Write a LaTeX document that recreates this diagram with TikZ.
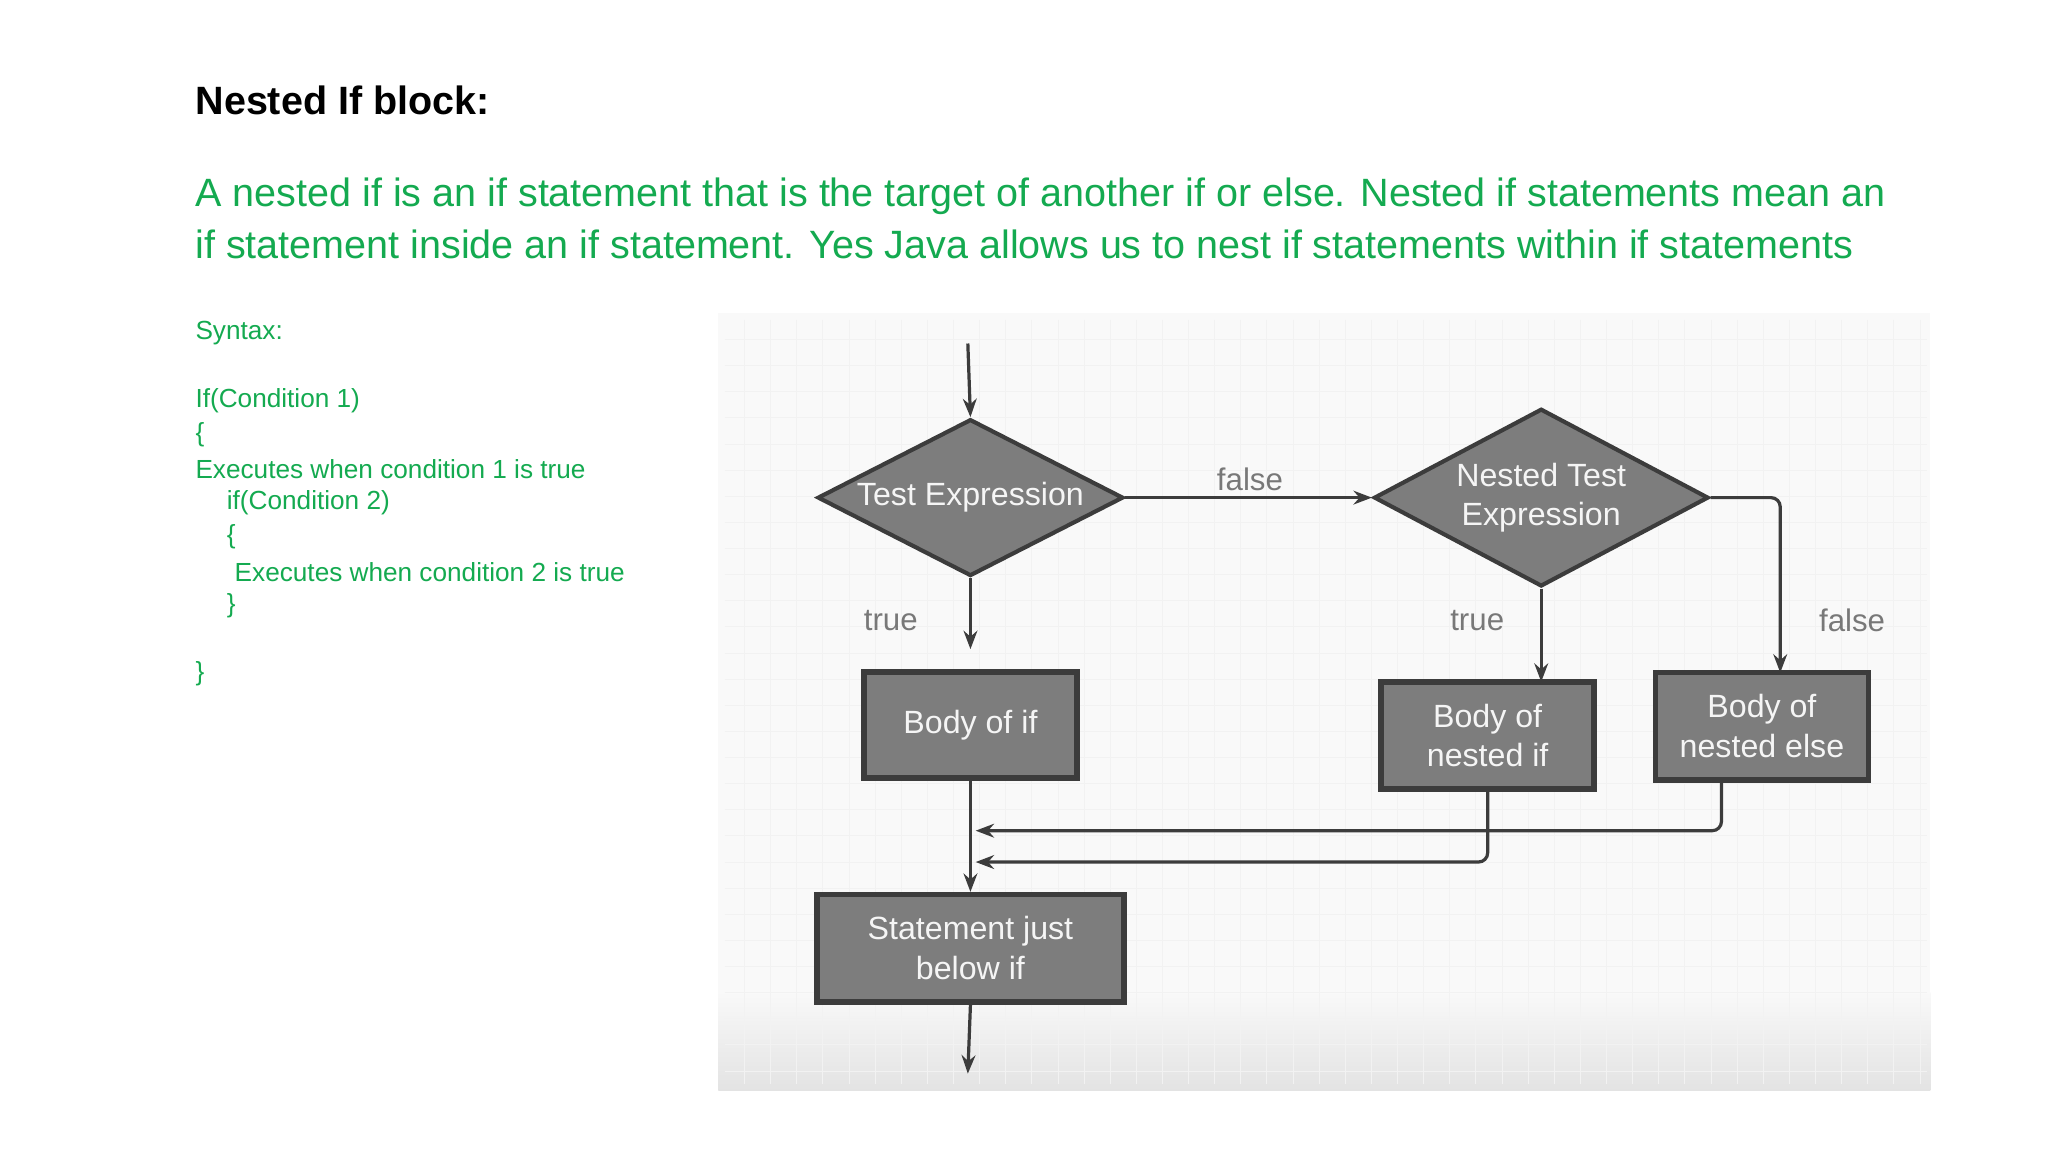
\documentclass[tikz,border=0pt]{standalone}
\usepackage{fontspec}
\setmainfont{Liberation Sans}
\usetikzlibrary{shapes.geometric,arrows.meta}
\definecolor{txtgreen}{RGB}{20,170,80}
\definecolor{boxgray}{RGB}{125,125,125}
\definecolor{edgegray}{RGB}{60,60,60}
\definecolor{lblgray}{RGB}{120,120,120}
\tikzset{
  fcbox/.style={draw=edgegray, line width=1.2pt, fill=boxgray, text=white!92!gray, align=center, font=\fontsize{7}{8.6}\selectfont, inner sep=0pt},
  fcdia/.style={diamond, draw=edgegray, line width=0.9pt, fill=boxgray, text=white!92!gray, align=center, font=\fontsize{7}{8.6}\selectfont, inner sep=0pt, aspect=2},
  flow/.style={draw=edgegray, line width=0.7pt, -{Stealth[length=4pt,width=3pt]}, rounded corners=2pt},
  lbl/.style={text=lblgray, font=\fontsize{6.8}{8}\selectfont},
  syn/.style={anchor=west, text=txtgreen, font=\fontsize{5.7}{7}\selectfont, inner sep=0pt}
}
\begin{document}
\begin{tikzpicture}[x=0.01cm,y=-0.01cm]
\useasboundingbox[fill=white] (0,0) rectangle (1568,882);
% background
\fill[gray!5] (550,240) rectangle (1478,835);
\shade[top color=gray!5, bottom color=gray!22] (550,760) rectangle (1478,835);
\foreach \x in {570,590,...,1470} \draw[gray!10,line width=0.2pt] (\x,245) -- (\x,830);
\foreach \y in {260,280,...,820} \draw[gray!10,line width=0.2pt] (555,\y) -- (1475,\y);
% texts
\node[anchor=west,inner sep=0pt,font=\bfseries\fontsize{8.6}{10}\selectfont] (title) at (149,77) {Nested If block:};
\node[anchor=west,inner sep=0pt,text=txtgreen,font=\fontsize{8.6}{10.5}\selectfont] (p1) at (149,150) {A nested if is an if statement that is the target of another if or else. Nested if statements mean an};
\node[anchor=west,inner sep=0pt,text=txtgreen,font=\fontsize{8.6}{10.5}\selectfont] (p2) at (149,187) {if statement inside an if statement. Yes Java allows us to nest if statements within if statements};
\node[syn] (s1) at (149,255) {Syntax:};
\node[syn] (s2) at (149,307) {If(Condition 1)};
\node[syn] (s3) at (149,333) {\{};
\node[syn] (s4) at (149,359) {Executes when condition 1 is true};
\node[syn] (s5) at (173,385) {if(Condition 2)};
\node[syn] (s6) at (173,411) {\{};
\node[syn] (s7) at (179,438) {Executes when condition 2 is true};
\node[syn] (s8) at (173,464) {\}};
\node[syn] (s9) at (149,516) {\}};
% flowchart
\coordinate (start) at (741,263);
\node[fcdia, minimum width=2.34cm, minimum height=1.2cm] (d1) at (743,381) {Test Expression};
\node[fcdia, minimum width=2.56cm, minimum height=1.36cm] (d2) at (1180,381) {Nested Test\\Expression};
\node[fcbox, minimum width=1.63cm, minimum height=0.81cm] (b1) at (743,555) {Body of if};
\node[fcbox, minimum width=1.63cm, minimum height=0.82cm] (b2) at (1139,563) {Body of\\nested if};
\node[fcbox, minimum width=1.63cm, minimum height=0.82cm] (b3) at (1349,556) {Body of\\nested else};
\node[fcbox, minimum width=2.35cm, minimum height=0.82cm] (st) at (743,726) {Statement just\\below if};
\coordinate (end) at (741,822);
\coordinate (d1t) at (743,497);
\draw[flow] (start) -- (d1.north);
\draw[flow] (d1.south) -- (d1t);
\draw[flow] (d1.east) -- (d2.west);
\draw[flow] (d2.south) -- (1180,522);
\draw[flow] (d2.east) -- (1363,381) -- (1363,515);
\draw[flow] (b1.south) -- (st.north);
\draw[flow] (1318,597) -- (1318,636) -- (747,636);
\draw[flow] (b2.south) -- (1139,660) -- (747,660);
\draw[flow] (st.south) -- (end);
\node[lbl] (t1) at (682,475) {true};
\node[lbl] (f1) at (957,367) {false};
\node[lbl] (t2) at (1131,475) {true};
\node[lbl] (f2) at (1418,475) {false};
\end{tikzpicture}
\end{document}
